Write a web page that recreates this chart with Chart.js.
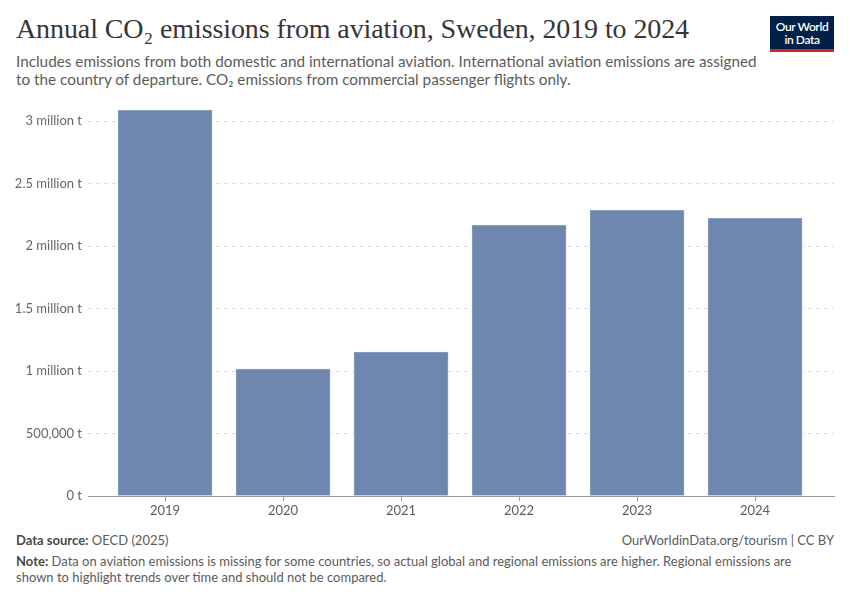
<!DOCTYPE html>
<html><head><meta charset="utf-8">
<script src="https://cdn.jsdelivr.net/npm/chart.js@4/dist/chart.umd.min.js"></script>
<style>
body{margin:0;width:850px;height:600px;background:#fff;position:relative;font-family:Lato,"Noto Sans",sans-serif;overflow:hidden}
#title{position:absolute;left:16px;top:13px;font-family:"Liberation Serif","DejaVu Serif",serif;font-size:28px;color:#363636;white-space:nowrap;letter-spacing:-0.1px}
#sub{position:absolute;left:16px;top:52px;width:750px;font-size:15.3px;line-height:18px;color:#5b5b5b}
#logo{position:absolute;left:770px;top:16px;width:64px;height:36px;background:#002147;border-bottom:3px solid #ce261e;box-sizing:border-box;color:#fff;font-size:12px;line-height:13px;text-align:center;padding-top:4px;letter-spacing:-0.4px;font-weight:600}
#wrap{position:absolute;left:0;top:95px;width:850px;height:431px}
#src{position:absolute;left:16px;top:532px;font-size:13px;color:#5b5b5b}
#url{position:absolute;right:16px;top:532px;font-size:13px;color:#5b5b5b}
#note{position:absolute;left:16px;top:553px;width:800px;font-size:13px;line-height:16px;color:#5b5b5b}
b{font-weight:700;color:#4a4a4a}
</style></head><body>
<div id="title">Annual CO₂ emissions from aviation, Sweden, 2019 to 2024</div>
<div id="sub">Includes emissions from both domestic and international aviation. International aviation emissions are assigned to the country of departure. CO₂ emissions from commercial passenger flights only.</div>
<div id="logo">Our World<br>in Data</div>
<div id="wrap"><canvas id="c"></canvas></div>
<div id="src"><b>Data source:</b> OECD (2025)</div>
<div id="url">OurWorldinData.org/tourism | CC BY</div>
<div id="note"><b>Note:</b> Data on aviation emissions is missing for some countries, so actual global and regional emissions are higher. Regional emissions are shown to highlight trends over time and should not be compared.</div>
<script>
const years = [2019, 2020, 2021, 2022, 2023, 2024];
const emissions = [3088000, 1016000, 1152000, 2168000, 2288000, 2224000];
const yTickValues = [0, 500000, 1000000, 1500000, 2000000, 2500000, 3000000];
const yTickLabels = ["0 t", "500,000 t", "1 million t", "1.5 million t", "2 million t", "2.5 million t", "3 million t"];

const ctx = document.getElementById('c');
new Chart(ctx, {
  type: 'bar',
  data: {
    datasets: [{
      data: years.map((y, i) => ({x: y, y: emissions[i]})),
      backgroundColor: '#6e87ae',
      borderColor: '#8aa0c2',
      borderWidth: {left:1, right:1, top:1, bottom:0},
      barThickness: 94
    }]
  },
  options: {
    responsive: true,
    maintainAspectRatio: false,
    animation: false,
    layout: {padding: {top: 13, right: 16, left: 0, bottom: 0}},
    plugins: {legend: {display: false}, tooltip: {enabled: false}},
    scales: {
      x: {
        type: 'linear',
        offset: false,
        min: 2018.347,
        max: 2024.669,
        afterBuildTicks: s => { s.ticks = years.map(v => ({value: v})); },
        afterFit: s => { s.height = 30; },
        ticks: {callback: v => String(v), color: '#5b5b5b', font: {family: 'Lato', size: 13}, padding: 2, maxRotation: 0},
        grid: {offset: false, drawOnChartArea: false, drawTicks: true, tickLength: 5, color: '#999'},
        border: {display: true, color: '#999'}
      },
      y: {
        min: 0,
        max: 3100000,
        afterBuildTicks: s => { s.ticks = yTickValues.map(v => ({value: v})); },
        afterFit: s => { s.width = 88; },
        ticks: {callback: v => yTickLabels[yTickValues.indexOf(v)], color: '#666', font: {family: 'Lato', size: 13}, padding: 6},
        grid: {color: '#dddddd', drawTicks: false},
        border: {display: false, dash: [4, 4]}
      }
    }
  }
});
</script>
</body></html>
